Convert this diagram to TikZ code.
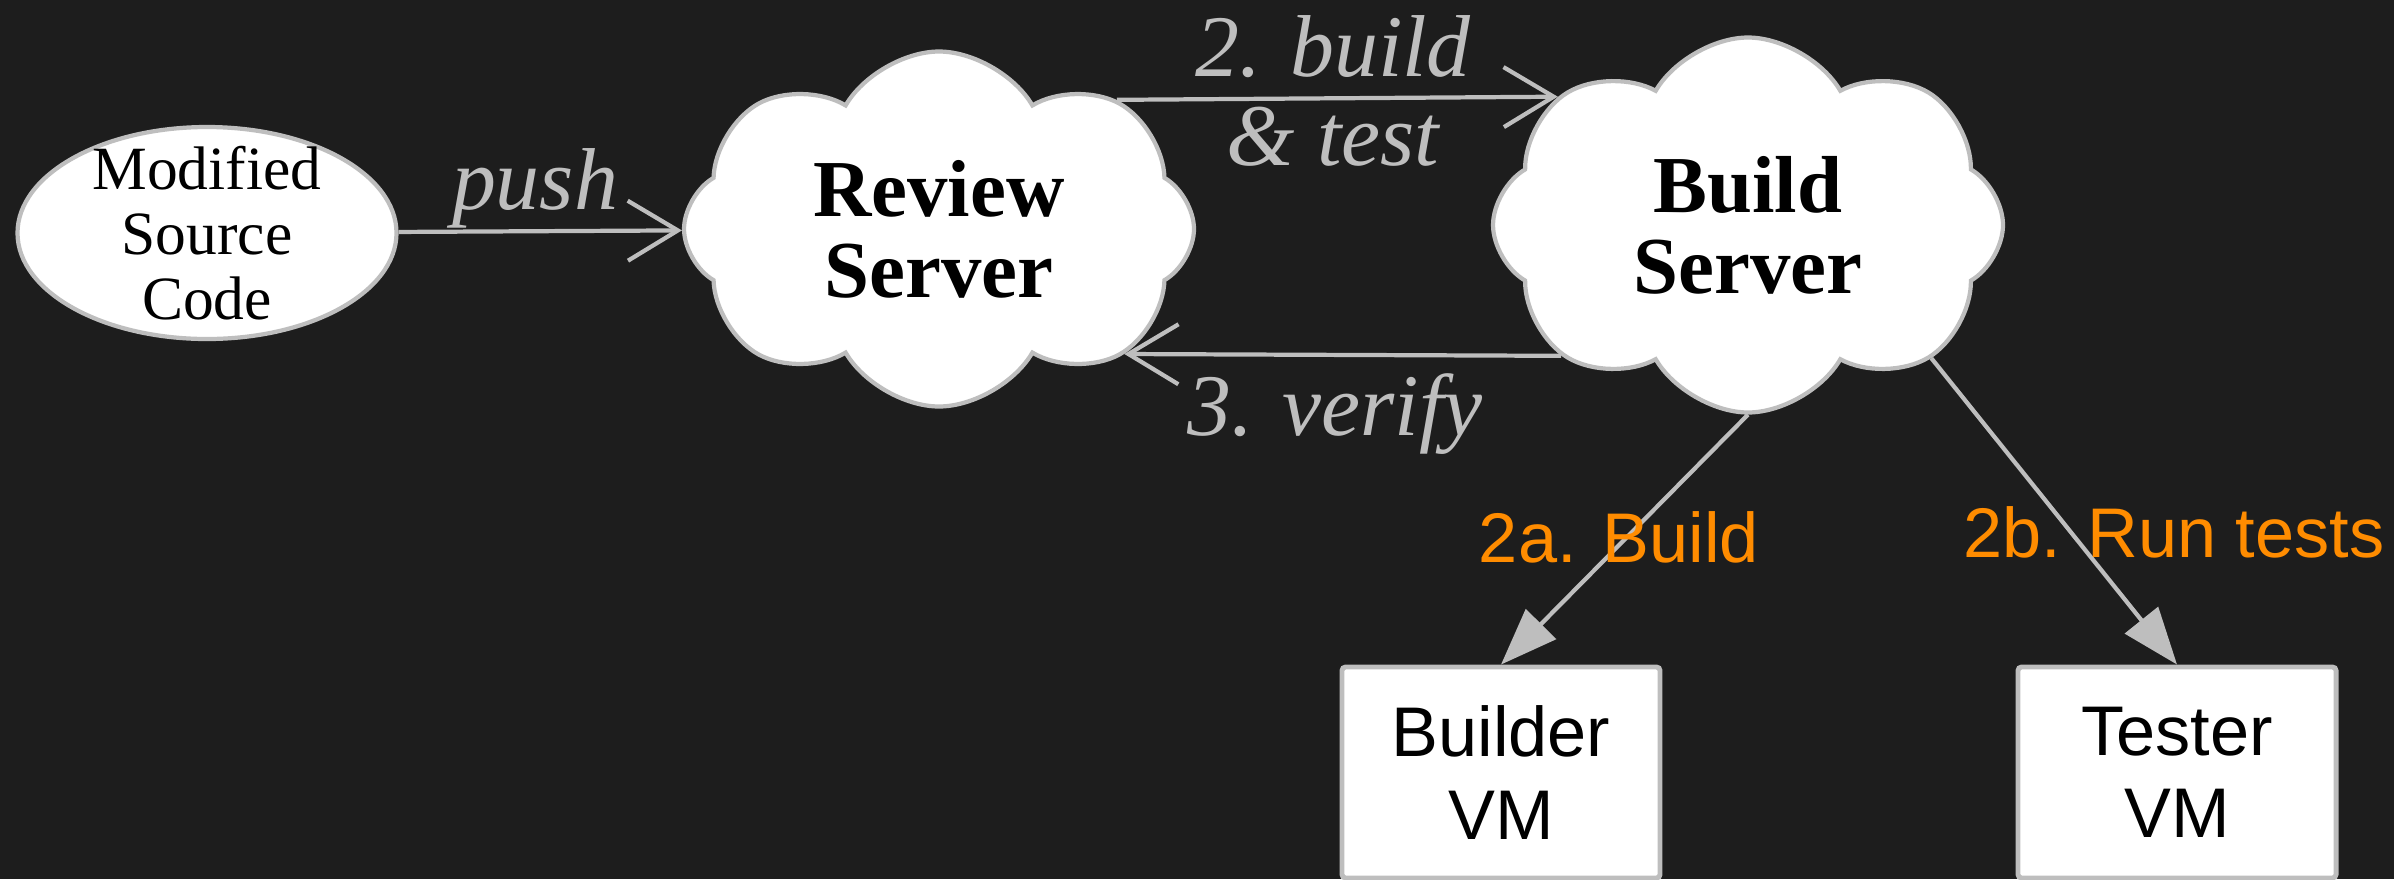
\documentclass[tikz,border=0pt]{standalone}
\usepackage{fontspec}
\setmainfont{Liberation Serif}
\newfontfamily\vmfont{Liberation Sans}
\usetikzlibrary{shapes.symbols, shapes.geometric, arrows.meta}

\definecolor{bgdark}{RGB}{29, 29, 29}
\definecolor{edgegray}{RGB}{190, 190, 190}
\definecolor{steporange}{RGB}{255, 140, 0}

\begin{document}
\begin{tikzpicture}[
	server/.style = {cloud, cloud puffs = 8, cloud puff arc = 120, aspect = 1.4, draw = edgegray, fill = white, line width = 1.2pt, minimum width = 5.1cm, minimum height = 3.55cm, align = center, font = \fontsize{23}{23}\selectfont\bfseries},
	vmbox/.style = {rectangle, rounded corners = 1pt, draw = edgegray, fill = white, line width = 1.4pt, minimum width = 3.18cm, minimum height = 2.11cm, align = center, font = \vmfont\fontsize{20}{23.5}\selectfont},
	flow/.style = {draw = edgegray, line width = 1.2pt, -{Straight Barb[length = 5mm, width = 6mm]}},
	fork/.style = {draw = edgegray, line width = 1.2pt, -{Triangle[length = 5.7mm, width = 4.2mm]}, fill = edgegray},
	note/.style = {anchor = base, text = edgegray, font = \fontsize{25}{25}\selectfont\itshape},
	steplabel/.style = {anchor = base, text = steporange, font = \vmfont\fontsize{20}{20}\selectfont}
	]
	 \fill[bgdark] (0, 0) rectangle (23.94, 8.79);
	 \useasboundingbox (0, 0) rectangle (23.94, 8.79);
	 
	 \node[ellipse, draw = edgegray, fill = white, line width = 1.2pt, minimum width = 3.79cm, minimum height = 2.12cm, inner xsep = 0pt, inner ysep = -3mm, align = center, font = \fontsize{17.5}{18.5}\selectfont] (src) at (2.07, 6.46) {Modified\\Source\\Code};
	 \node[server] (review) at (9.39, 6.50) {Review\\Server};
	 \node[server, minimum height = 3.75cm] (build) at (17.48, 6.54) {Build\\Server};
	 \node[vmbox] (builder) at (15.01, 1.065) {Builder\\VM};
	 \node[vmbox] (tester) at (21.77, 1.065) {Tester\\VM};
	 
	 \draw[flow] (src) -- (review);
	 \draw[flow] (review.36) -- (build.146);
	 \draw[flow] (build.215) -- (review.326);
	 \draw[fork] (build.south) -- (builder.north);
	 \draw[fork] (build.324) -- (tester.north);
	 
	 \node[note] (pushlabel) at (5.35, 6.70) {push};
	 \node[note] (buildlabel) at (13.33, 8.03) {2. build};
	 \node[note] (testlabel) at (13.33, 7.14) {\& test};
	 \node[note] (verifylabel) at (13.35, 4.44) {3. verify};
	 \node[steplabel] (buildstep) at (16.19, 3.17) {2a. Build};
	 \node[steplabel] (teststep) at (21.74, 3.22) {2b. Run tests};
\end{tikzpicture}
\end{document}
